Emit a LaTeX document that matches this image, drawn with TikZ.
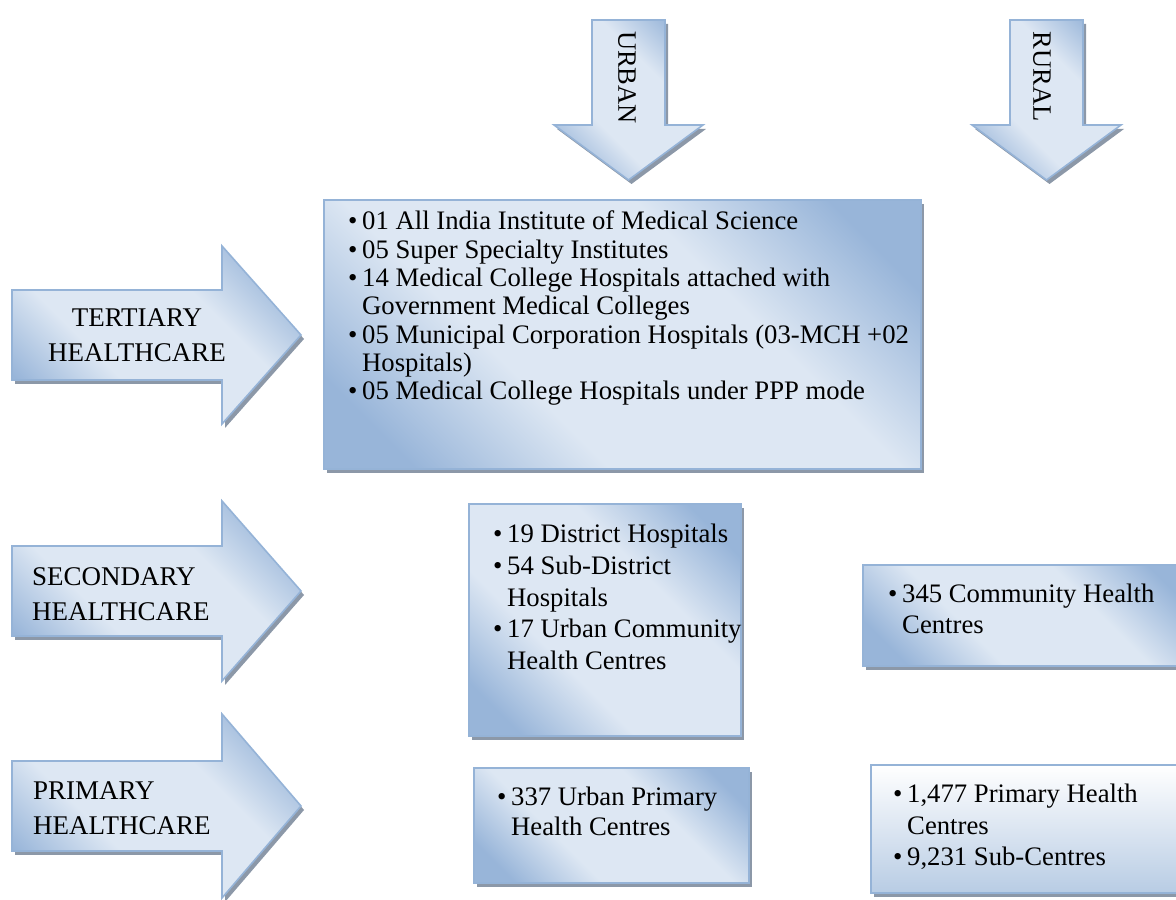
\documentclass[tikz,border=0pt]{standalone}
\usepackage{fontspec}
\setmainfont{Liberation Serif}
\usetikzlibrary{shadows,positioning}

\definecolor{edgeblue}{RGB}{149,179,215}
\definecolor{fadelight}{RGB}{221,231,243}
\definecolor{fadedark}{RGB}{152,181,217}
\definecolor{shadowgray}{RGB}{140,152,168}
\definecolor{rurfoot}{RGB}{184,204,228}

\pgfdeclareverticalshading{diagfade}{100bp}{color(0bp)=(fadedark); color(22bp)=(fadedark);
  color(38bp)=(fadelight); color(62bp)=(fadelight); color(78bp)=(fadedark); color(100bp)=(fadedark)}

\newcommand{\lbul}{\makebox[14pt][l]{\textbullet}}
\newcommand{\lind}{\hspace*{14pt}}

\tikzset{
  flatshadow/.style={drop shadow={shadow xshift=3pt, shadow yshift=-4pt, fill=shadowgray, opacity=1}},
  blockarrow/.style={draw=edgeblue, line width=1.6pt, shading=diagfade, shading angle=-45, flatshadow},
  infobox/.style={rectangle, draw=edgeblue, line width=1.8pt, shading=diagfade, shading angle=-45, flatshadow, inner sep=0pt, anchor=north west},
  listtext/.style={anchor=north west, inner sep=0pt, align=left},
  levellabel/.style={inner sep=0pt, font=\fontsize{27}{35}\selectfont}
}

\begin{document}
\begin{tikzpicture}[x=1pt, y=1pt, line join=miter]
\useasboundingbox (0,0) rectangle (1176,900);

% level arrows
\foreach \cy/\hh in {565/89, 309/90, 94/92}
  \draw[blockarrow] (12,{\cy+45}) -- (222,{\cy+45}) -- (222,{\cy+\hh}) -- (301,\cy)
    -- (222,{\cy-\hh}) -- (222,{\cy-45}) -- (12,{\cy-45}) -- cycle;

% urban / rural arrows
\foreach \cx in {628.5, 1046.5}
  \draw[blockarrow] ({\cx-36.5},880) -- ({\cx+36.5},880) -- ({\cx+36.5},775) -- ({\cx+74.5},775)
    -- (\cx,720) -- ({\cx-74.5},775) -- ({\cx-36.5},775) -- cycle;

\node[levellabel, align=center] (tertlabel) at (137,565) {TERTIARY\\HEALTHCARE};
\node[levellabel, align=left, anchor=west] (seclabel) at (32,305.5) {SECONDARY\\HEALTHCARE};
\node[levellabel, align=left, anchor=west] (primlabel) at (33,91.5) {PRIMARY\\HEALTHCARE};
\node[levellabel, font=\fontsize{26.5}{30}\selectfont, rotate=-90] (urbanlabel) at (627,822.5) {URBAN};
\node[levellabel, font=\fontsize{26.5}{30}\selectfont, rotate=-90] (rurallabel) at (1042,823.5) {RURAL};

% boxes
\node[infobox, minimum width=597pt, minimum height=269pt] (tertbox) at (323,701) {};
\node[infobox, minimum width=272pt, minimum height=232pt] (securban) at (468,397) {};
\node[infobox, minimum width=330pt, minimum height=101pt] (secrural) at (862,336) {};
\node[infobox, minimum width=275pt, minimum height=115pt] (primurban) at (473,133) {};
\node[infobox, minimum width=320pt, minimum height=128pt, shading=axis, top color=white, bottom color=rurfoot] (primrural) at (870,136) {};

% box texts
\node[listtext, font=\fontsize{26.7}{28.3}\selectfont] (terttext) at ([shift={(25,-12)}]tertbox.north west)
  {\lbul 01 All India Institute of Medical Science\\
   \lbul 05 Super Specialty Institutes\\
   \lbul 14 Medical College Hospitals attached with\\
   \lind Government Medical Colleges\\
   \lbul 05 Municipal Corporation Hospitals (03-MCH +02\\
   \lind Hospitals)\\
   \lbul 05 Medical College Hospitals under PPP mode};
\node[listtext, font=\fontsize{26.7}{31.7}\selectfont] (securbantext) at ([shift={(25,-21)}]securban.north west)
  {\lbul 19 District Hospitals\\
   \lbul 54 Sub-District\\
   \lind Hospitals\\
   \lbul 17 Urban Community\\
   \lind Health Centres};
\node[listtext, font=\fontsize{26.7}{31}\selectfont] (secruraltext) at ([shift={(26,-20)}]secrural.north west)
  {\lbul 345 Community Health\\
   \lind Centres};
\node[listtext, font=\fontsize{26.7}{30}\selectfont] (primurbantext) at ([shift={(24,-20)}]primurban.north west)
  {\lbul 337 Urban Primary\\
   \lind Health Centres};
\node[listtext, font=\fontsize{26.7}{31.5}\selectfont] (primruraltext) at ([shift={(23,-20)}]primrural.north west)
  {\lbul 1,477 Primary Health\\
   \lind Centres\\
   \lbul 9,231 Sub-Centres};
\end{tikzpicture}
\end{document}
